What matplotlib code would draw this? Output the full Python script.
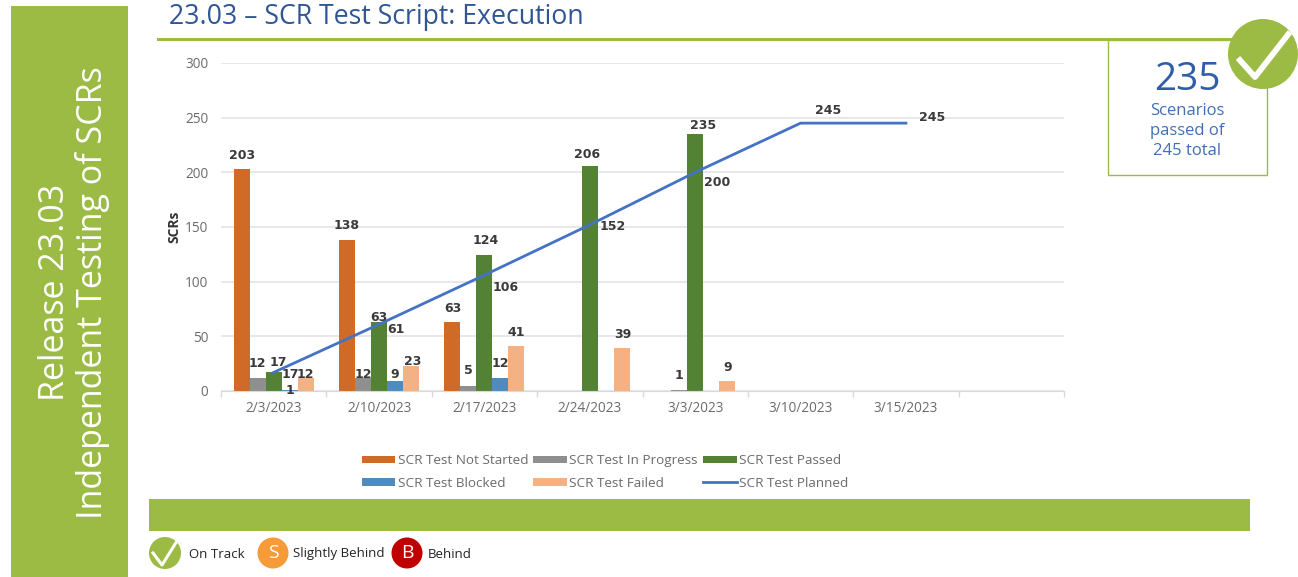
import numpy as np
import matplotlib
matplotlib.use("Agg")
import matplotlib.pyplot as plt
from matplotlib.patches import Rectangle, Circle

dates = ["2/3/2023", "2/10/2023", "2/17/2023", "2/24/2023", "3/3/2023", "3/10/2023", "3/15/2023", ""]
nan = float("nan")
not_started = [203, 138, 63, nan, nan, nan, nan, nan]
in_progress = [12, 12, 5, nan, 1, nan, nan, nan]
passed = [17, 63, 124, 206, 235, nan, nan, nan]
blocked = [1, 9, 12, nan, nan, nan, nan, nan]
failed = [12, 23, 41, 39, 9, nan, nan, nan]
planned = [17, 61, 106, 152, 200, 245, 245, nan]

series_names = ["SCR Test Not Started", "SCR Test In Progress", "SCR Test Passed",
                "SCR Test Blocked", "SCR Test Failed"]
series_values = [not_started, in_progress, passed, blocked, failed]
series_colors = ["#cf6a27", "#8f8f8f", "#548235", "#4f8bbf", "#f4b183"]

# label nudges in px (dx, dy above bar top)
bar_nudges = {
    (0, 0): (0, 14), (0, 1): (0, 15), (0, 2): (0, 14),
    (1, 0): (0, 14), (1, 1): (0, 3), (1, 2): (0, 15), (1, 4): (0, 14),
    (2, 0): (5, 10), (2, 1): (0, 5), (2, 2): (1, 15), (2, 3): (-3, 11), (2, 4): (8, 9),
    (3, 0): (0, -1), (3, 1): (0, 7), (3, 2): (0, 14),
    (4, 0): (0, 3), (4, 1): (2, 4), (4, 2): (0, 14), (4, 3): (1, 14), (4, 4): (0, 14),
}
line_nudges = [(17, -2), (17, -5), (21, -12), (23, -2), (22, -10), (28, 13), (26, 6)]

GREEN = "#9bbb44"
W, H = 1298, 577
fig = plt.figure(figsize=(W / 100, H / 100), dpi=100, facecolor="white")
plt.rcParams["font.family"] = ["Open Sans", "DejaVu Sans"]

# page decoration in pixel space
bg = fig.add_axes([0, 0, 1, 1], zorder=3)
bg.set_xlim(0, W); bg.set_ylim(H, 0); bg.axis("off"); bg.patch.set_alpha(0)
bg.add_patch(Rectangle((11, 6), 117, 571, fc=GREEN, ec="none"))
bg.add_patch(Rectangle((149, 499), 1101, 32, fc=GREEN, ec="none"))
bg.add_patch(Rectangle((157, 37.5), 1080, 3.5, fc=GREEN, ec="none"))
bg.add_patch(Rectangle((1107.5, 40), 159, 135, fc="none", ec=GREEN, lw=1))
bg.add_patch(Circle((1263, 54), 35, fc=GREEN, ec="none"))
bg.plot([1238, 1255, 1290], [58, 77, 32], color="white", lw=4.2, solid_capstyle="butt")

bg.text(169, 17, "23.03 – SCR Test Script: Execution", fontsize=19.2, color="#2f5597", va="center", ha="left")
bg.text(55, 292, "Release 23.03", fontsize=24.5, color="white", rotation=90, ha="center", va="center")
bg.text(93, 293, "Independent Testing of SCRs", fontsize=24.5, color="white", rotation=90, ha="center", va="center")

bg.text(1187, 80, "235", fontsize=28, color="#2f5ea8", ha="center", va="center")
for y, s in zip([111, 131, 151], ["Scenarios", "passed of", "245 total"]):
    bg.text(1187, y, s, fontsize=12, color="#3f6fb5", ha="center", va="center")

bg.add_patch(Circle((165, 553), 16, fc=GREEN, ec="none"))
bg.plot([153, 162, 177], [553, 565, 541], color="white", lw=2.2)
bg.text(189, 554, "On Track", fontsize=9.5, color="#222222", va="center")
bg.add_patch(Circle((273, 553), 15.5, fc="#f79a38", ec="none"))
bg.text(273, 553, "S", fontsize=14, color="white", ha="center", va="center")
bg.text(293, 554, "Slightly Behind", fontsize=9.5, color="#222222", va="center")
bg.add_patch(Circle((407, 553), 15.5, fc="#c00000", ec="none"))
bg.text(407, 553, "B", fontsize=14, color="white", ha="center", va="center")
bg.text(428, 554, "Behind", fontsize=9.5, color="#222222", va="center")

# chart
ax = fig.add_axes([221 / W, 1 - 391 / H, 843 / W, 328 / H], zorder=2)
x = np.arange(len(dates))
bw = 0.152
handles = []
label_style = dict(ha="center", va="center", fontsize=9, family="DejaVu Sans",
                   fontweight="bold", color="#3a3a3a", zorder=5)
for i, (name, vals, c) in enumerate(zip(series_names, series_values, series_colors)):
    b = ax.bar(x + (i - 2) * bw, vals, bw, color=c, label=name, zorder=2)
    handles.append(b)
    for j, v in enumerate(vals):
        if v == v:
            dx, dy = bar_nudges[(i, j)]
            ax.annotate(f"{v:d}", (x[j] + (i - 2) * bw, v), xytext=(dx * .72, dy * .72),
                        textcoords="offset points", **label_style)
line, = ax.plot(x, planned, color="#4472c4", lw=2, label="SCR Test Planned", zorder=3)
for j, v in enumerate(planned):
    if v == v:
        dx, dy = line_nudges[j]
        ax.annotate(f"{v:d}", (x[j], v), xytext=(dx * .72, dy * .72), textcoords="offset points",
                    **label_style)

ax.set_xlim(-0.5, 7.5)
ax.set_ylim(0, 300)
ax.set_yticks(range(0, 301, 50))
ax.set_xticks(x)
ax.set_xticklabels(dates)
ax.set_xticks(np.arange(-0.5, 8, 1), minor=True)
ax.tick_params(axis="x", which="major", length=0, pad=7, labelsize=9.8, labelcolor="#6b6b6b")
ax.tick_params(axis="x", which="minor", length=4, color="#d9d9d9", width=1)
ax.tick_params(axis="y", length=0, pad=9, labelsize=9.8, labelcolor="#6b6b6b")
ax.grid(axis="y", color="#e4e4e4", lw=1.2, zorder=0)
ax.set_axisbelow(True)
for s in ["top", "right", "left"]:
    ax.spines[s].set_visible(False)
ax.spines["bottom"].set_color("#d9d9d9")
ax.set_ylabel("SCRs", fontsize=10, fontweight="bold", color="#333333", labelpad=3)

order_h = [handles[0], handles[3], handles[1], handles[4], handles[2], line]
leg = ax.legend(handles=order_h, ncol=3, frameon=False, fontsize=9.7, labelcolor="#6b6b6b",
                loc="center", bbox_to_anchor=((605 - 221) / 843, -(472 - 391) / 328),
                handlelength=2.47, handleheight=0.5, handletextpad=0.2, columnspacing=0.4,
                labelspacing=0.7, borderpad=0, borderaxespad=0)

fig.savefig("out.png", dpi=100)
